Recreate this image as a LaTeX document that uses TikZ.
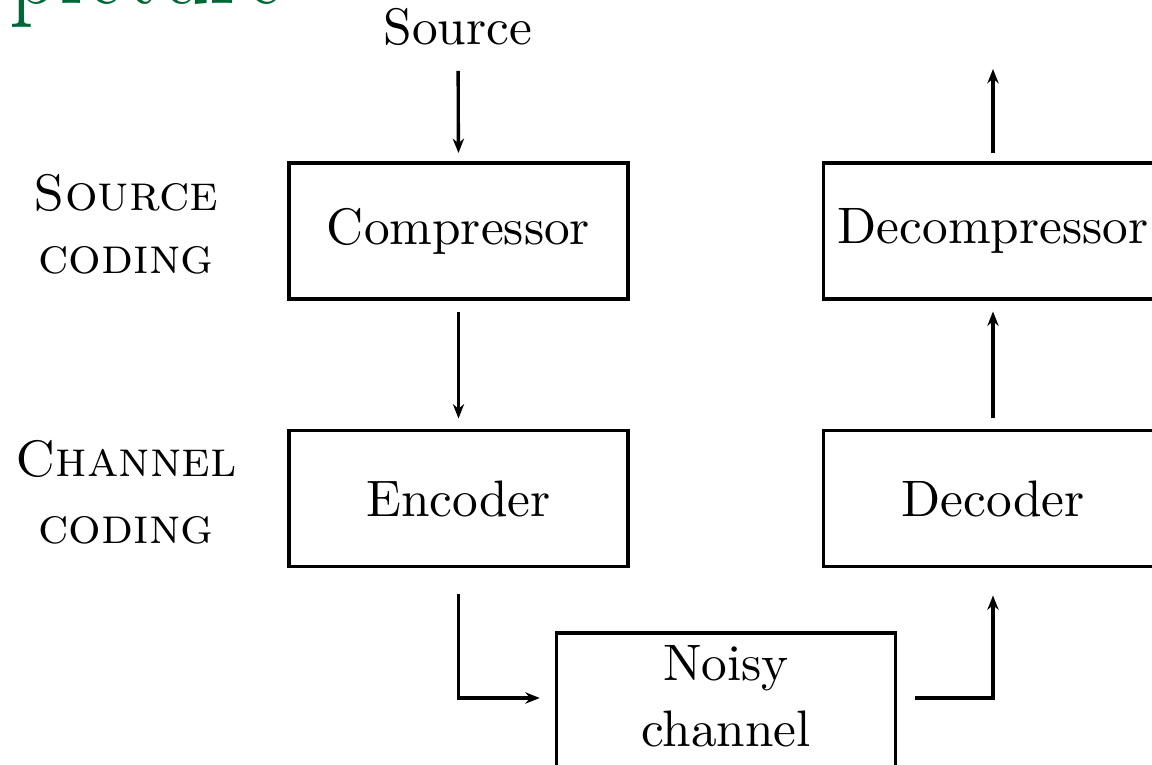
\documentclass[tikz,border=0pt]{standalone}
\usetikzlibrary{arrows.meta,calc}
\definecolor{titlegreen}{RGB}{0,104,54}
\begin{document}
\begin{tikzpicture}[x=0.1949pt,y=-0.1949pt,
  line width=0.65pt,
  blockbox/.style={draw,line width=0.7pt,minimum width=66.1pt,minimum height=26.5pt,inner sep=0pt,align=center},
  flow/.style={-{Stealth[length=2.8pt,width=2.2pt]},line width=0.65pt},
  sidelabel/.style={align=center,inner sep=0pt,font=\scshape,text depth=0pt}]
\useasboundingbox (0,0) rectangle (1152,765);
% cut-off slide title
\node[anchor=base west,inner sep=0pt,text=titlegreen,font=\fontsize{24}{28}\selectfont,xscale=0.8,transform shape] (title) at (8,4) {picture};
% source label
\node[anchor=base,inner sep=0pt] (src) at (458,45) {Source};
% blocks
\node[blockbox] (comp) at (458.5,231) {Compressor};
\node[blockbox] (enc) at (458.5,498.5) {Encoder};
\node[blockbox] (decomp) at (993,231) {Decompressor};
\node[blockbox] (dec) at (993,498.5) {Decoder};
\node[blockbox,text depth=1.94pt] (noisy) at (726,701) {Noisy\\[0.9pt]channel};
\coordinate (sink) at (993,69);
% side labels
\node[sidelabel] (lsrc) at (126,224) {Source\\[0.2pt]coding};
\node[sidelabel] (lchan) at (126,492) {Channel\\[1pt]coding};
% connectors
\draw[flow,shorten <=4.5pt,shorten >=1.6pt] (src.south) -- (comp.north);
\draw[flow,shorten <=2.1pt,shorten >=2pt] (comp.south) -- (enc.north);
\draw[flow,shorten <=5pt,shorten >=2.9pt] (enc.south) |- ($(noisy.west)+(0,-3)$);
\draw[flow,shorten <=3.5pt,shorten >=5.3pt] ($(noisy.east)+(0,-3)$) -| (dec.south);
\draw[flow,shorten <=2pt,shorten >=2.1pt] (dec.north) -- (decomp.south);
\draw[flow,shorten <=1.6pt] (decomp.north) -- (sink);
\end{tikzpicture}
\end{document}
